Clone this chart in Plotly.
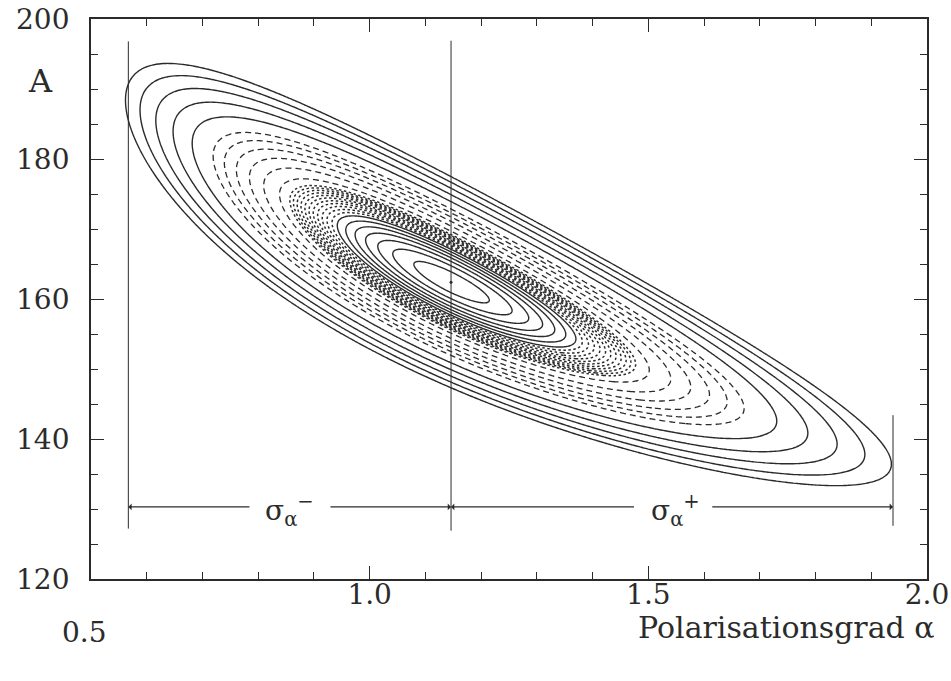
import numpy as np
import plotly.graph_objects as go

# ---------------- data ----------------
# best-fit point (alpha, A)
FIT_ALPHA = 1.146
FIT_A = 162.4
# shape of the likelihood surface
SQRT_ALPHA_WIDTH = 0.100   # half-width in sqrt(alpha) of the level-1 contour
A_WIDTH = 4.7              # half-width in A (at the fit alpha) of the level-1 contour
RIDGE_SLOPE = -81.0        # dA / d sqrt(alpha) along the correlation ridge
WIDTH_SKEW = 0.052         # the band narrows towards large alpha

# contour levels (start, end, step) of the chi^2-like surface
INNER_SOLID_LEVELS = (0.10, 1.00, 0.15)
DOTTED_LEVELS = (1.10, 2.10, 0.10)
DASHED_LEVELS = (2.40, 4.95, 0.51)
OUTER_SOLID_LEVELS = (6.00, 10.30, 1.075)

# error interval sigma_alpha^- / sigma_alpha^+
SIGMA_LOW = 0.567
SIGMA_HIGH = 1.939
LINE_TOP = [196.8, 196.9, 143.4]     # top of the vertical markers (low, fit, high)
LINE_BOTTOM = [127.2, 126.9, 127.6]  # bottom of the vertical markers
ARROW_A = 130.3
LABEL_ALPHA = [0.857, 1.548]         # label positions of sigma^- and sigma^+
LABEL_GAPS = [(0.787, 0.927), (1.477, 1.612)]

X_TICKS = [0.5, 1.0, 1.5, 2.0]
X_TICK_TEXT = ["", "1.0", "1.5", "2.0"]
Y_TICKS = [120, 140, 160, 180, 200]
Y_TICK_TEXT = ["120", "140", "160", "180", "200"]

INK = "#2b2b2b"
SERIF = "DejaVu Serif"


def surface(a_lo, a_hi, a_n, A_lo, A_hi, A_n):
    alpha = np.linspace(a_lo, a_hi, a_n)
    amp = np.linspace(A_lo, A_hi, A_n)
    s0 = np.sqrt(FIT_ALPHA)
    ds = np.sqrt(alpha)[None, :] - s0
    u = ds / SQRT_ALPHA_WIDTH
    g = np.exp(-WIDTH_SKEW * u)
    v = (amp[:, None] - FIT_A - RIDGE_SLOPE * ds) / (A_WIDTH * g)
    return alpha, amp, (u * u + v * v).astype(np.float32)


def contour_trace(grid, levels, dash, width):
    a, A, z = grid
    start, end, step = levels
    return go.Contour(
        x=a, y=A, z=z,
        autocontour=False,
        contours=dict(start=start, end=end + 1e-6, size=step,
                      coloring="lines", showlabels=False),
        line=dict(width=width, dash=dash, smoothing=1),
        colorscale=[[0, INK], [1, INK]],
        showscale=False, hoverinfo="skip",
    )


fig = go.Figure()
fig.add_trace(contour_trace(surface(0.5, 2.0, 301, 120, 200, 321), OUTER_SOLID_LEVELS, "solid", 1.4))
fig.add_trace(contour_trace(surface(0.6, 1.8, 301, 134, 192, 291), DASHED_LEVELS, "6px,4px", 1.3))
fig.add_trace(contour_trace(surface(0.75, 1.62, 300, 142, 184, 351), DOTTED_LEVELS, "2.5px,2.5px", 1.5))
fig.add_trace(contour_trace(surface(0.86, 1.45, 280, 149, 177, 321), INNER_SOLID_LEVELS, "solid", 1.4))

# best-fit point
fig.add_trace(go.Scatter(x=[FIT_ALPHA], y=[FIT_A], mode="markers",
                         marker=dict(size=3, color=INK), hoverinfo="skip",
                         showlegend=False))

# vertical markers
for xv, yt, yb in zip([SIGMA_LOW, FIT_ALPHA, SIGMA_HIGH], LINE_TOP, LINE_BOTTOM):
    fig.add_shape(type="line", xref="x", yref="y", x0=xv, x1=xv, y0=yb, y1=yt,
                  line=dict(color=INK, width=1))

# arrows (each half of the double arrows, interrupted by the label)
arrow_pairs = [
    (SIGMA_LOW, LABEL_GAPS[0][0]),
    (FIT_ALPHA, LABEL_GAPS[0][1]),
    (FIT_ALPHA, LABEL_GAPS[1][0]),
    (SIGMA_HIGH, LABEL_GAPS[1][1]),
]
for head, tail in arrow_pairs:
    fig.add_annotation(x=head, y=ARROW_A, ax=tail, ay=ARROW_A, xref="x", yref="y",
                       axref="x", ayref="y", text="", showarrow=True,
                       arrowhead=1, arrowsize=1.0, arrowwidth=1.1, arrowcolor=INK)

for xl, sign in zip(LABEL_ALPHA, ["\u2212", "+"]):
    fig.add_annotation(x=xl, y=ARROW_A, xref="x", yref="y", showarrow=False,
                       text=f"\u03c3<sub>\u03b1</sub><sup>{sign}</sup>",
                       font=dict(family=SERIF, size=28, color=INK),
                       xanchor="center", yanchor="middle", yshift=-4)

# axis labels
fig.add_annotation(x=0, y=0.89, xref="paper", yref="paper", xshift=-51,
                   text="A", showarrow=False, xanchor="center", yanchor="middle",
                   font=dict(family=SERIF, size=32, color=INK))
fig.add_annotation(x=1, y=0, xref="paper", yref="paper", xshift=10, yshift=-48,
                   text="Polarisationsgrad \u03b1", showarrow=False,
                   xanchor="right", yanchor="middle",
                   font=dict(family=SERIF, size=30, color=INK))
fig.add_annotation(x=X_TICKS[0], y=0, xref="x", yref="paper", xshift=-7, yshift=-53,
                   text="0.5", showarrow=False, xanchor="center", yanchor="middle",
                   font=dict(family=SERIF, size=28, color=INK))

axis_common = dict(
    showline=True, linecolor=INK, linewidth=1.8, mirror="ticks",
    ticks="inside", ticklen=13, tickwidth=1.3, tickcolor=INK,
    showgrid=False, zeroline=False, automargin=False,
    tickfont=dict(family=SERIF, size=28, color=INK),
)
fig.update_xaxes(range=[0.5, 2.0], tickvals=X_TICKS, ticktext=X_TICK_TEXT,
                 minor=dict(dtick=0.1, ticks="inside", ticklen=7, tickwidth=1.2,
                            tickcolor=INK, showgrid=False),
                 ticklabelstandoff=-11, **axis_common)
fig.update_yaxes(range=[120, 200], tickvals=Y_TICKS, ticktext=Y_TICK_TEXT,
                 minor=dict(dtick=5, ticks="inside", ticklen=7, tickwidth=1.2,
                            tickcolor=INK, showgrid=False),
                 ticklabelstandoff=14, **axis_common)

fig.update_layout(
    width=951, height=681,
    margin=dict(l=91, r=24, t=19, b=102),
    paper_bgcolor="white", plot_bgcolor="white",
    showlegend=False,
)

fig.write_html("out.html")
